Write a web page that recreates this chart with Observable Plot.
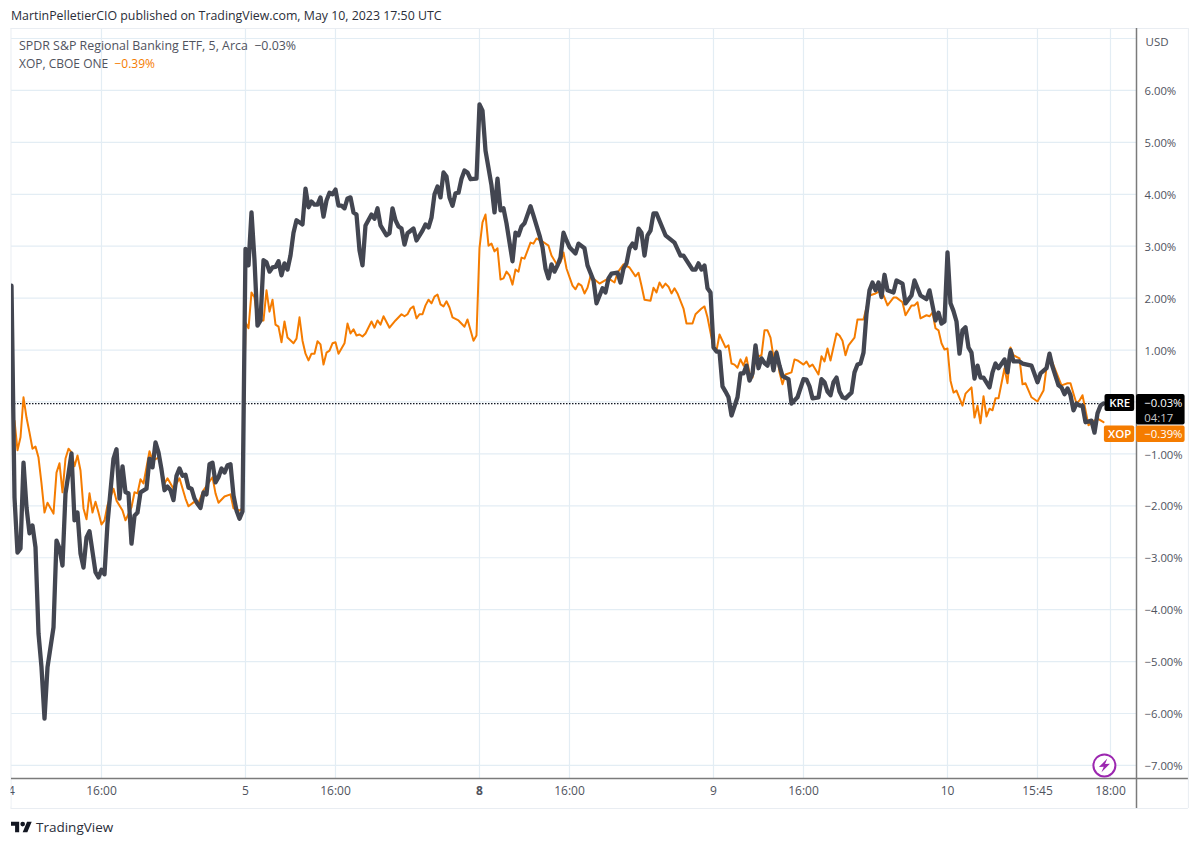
<!DOCTYPE html>
<html><head><meta charset="utf-8">
<script src="https://cdn.jsdelivr.net/npm/d3@7"></script>
<script src="https://cdn.jsdelivr.net/npm/@observablehq/plot@0.6"></script>
<style>
html,body{margin:0;padding:0;background:#fff;font-family:"Open Sans",sans-serif;}
#wrap{position:relative;width:1200px;height:846px;overflow:hidden;}
#wrap svg.plot{position:absolute;left:0;top:0;}
.t{position:absolute;white-space:pre;color:#50535e;font-size:12px;line-height:14px;}
</style></head><body>
<div id="wrap">
<div class="t" style="left:11px;top:9px;color:#2a2e39;font-size:12.37px;">MartinPelletierCIO published on TradingView.com, May 10, 2023 17:50 UTC</div>
<div class="t" id="l1" style="left:19px;top:39px;font-size:12.4px;">SPDR S&amp;P Regional Banking ETF, 5, Arca  −0.03%</div>
<div class="t" id="l2" style="left:19px;top:57px;">XOP, CBOE ONE  <span style="color:#f57c00">−0.39%</span></div>
<div class="t" style="left:36px;top:819px;color:#2a2e39;font-size:13.5px;line-height:16px;">TradingView</div>
<svg style="position:absolute;left:11px;top:821px" width="21" height="12" viewBox="0 4 36 18"><path fill="#131722" d="M14 22H7V11H0V4h14v18zM28 22h-8l7.5-18h8L28 22z"/><circle fill="#131722" cx="20" cy="8" r="4"/></svg>
</div>
<script>
const kreBars=[0,1,2,3,4,5,6,7,8,9,10,11,12,14,15,16,17,18,19,20,21,22,23,24,25,26,28,29,30,31,32,34,35,36,37,38,39,40,41,42,43,45,46,47,48,49,50,51,52,53,54,55,56,57,58,59,60,61,62,63,64,65,66,67,68,69,70,71,72,73,74,75,76,77,78,79,80,81,82,83,84,85,86,87,88,89,90,91,92,93,94,95,97,98,99,100,101,102,103,104,105,106,107,108,109,110,111,112,113,114,115,116,117,118,120,121,122,123,125,126,127,128,129,130,131,132,134,135,137,138,139,140,141,142,143,144,145,146,147,148,149,150,151,152,153,155,156,157,158,160,161,162,163,164,165,167,168,169,170,171,173,174,176,177,178,179,180,181,182,183,184,185,186,188,189,191,192,194,195,197,198,199,200,202,203,204,205,206,207,208,209,210,211,212,213,214,215,218,221,223,224,227,228,229,230,231,232,233,234,235,236,237,238,239,240,242,243,244,245,246,247,248,249,250,251,252,253,254,255,256,257,258,259,260,262,264,265,266,267,269,270,271,272,273,274,275,276,277,278,280,281,282,283,284,285,286,287,288,289,290,291,292,294,295,297,298,300,301,303,305,306,308,309,310,311,312,313,314,315,316,317,318,319,320,321,322,323,324,326,327,328,329,331,332,333,334,336,337,340,342,343,345,346,347,349,350,351,352,353,354,355,356,357,358,360,361,362,363,364];
const kreValues=[2.24,-1.84,-2.90,-2.82,-1.17,-2.03,-2.53,-2.38,-2.80,-4.46,-5.11,-6.10,-5.11,-4.34,-2.67,-2.82,-3.15,-1.76,-1.38,-0.99,-2.28,-2.13,-2.92,-3.19,-2.61,-2.49,-3.28,-3.38,-3.23,-3.32,-2.34,-1.09,-0.91,-1.86,-1.24,-1.74,-1.76,-2.73,-2.19,-2.13,-1.74,-1.67,-1.09,-1.26,-0.78,-0.97,-1.30,-1.70,-1.63,-1.70,-1.89,-1.42,-1.28,-1.42,-1.40,-1.65,-1.67,-1.86,-1.96,-2.04,-1.74,-1.78,-1.20,-1.17,-1.55,-1.45,-1.28,-1.36,-1.22,-1.20,-1.80,-2.09,-2.25,-2.11,2.95,2.63,3.65,2.73,1.47,1.57,2.73,2.69,2.51,2.59,2.60,2.71,2.44,2.67,2.55,2.82,3.26,3.50,3.42,4.11,3.75,3.86,3.80,3.80,3.94,3.57,3.88,4.03,4.00,4.09,3.78,3.78,3.73,3.92,3.94,3.65,3.61,2.92,2.63,3.40,3.61,3.53,3.73,3.40,3.21,3.25,3.73,3.50,3.38,3.34,3.03,3.25,3.34,3.11,3.30,3.42,3.36,3.55,4.00,4.15,3.94,4.42,4.34,3.94,3.78,4.02,4.03,4.30,4.46,4.42,4.29,4.30,5.73,5.61,4.84,4.17,3.65,4.30,3.69,3.73,3.44,2.71,3.26,3.21,3.38,3.44,3.77,3.59,3.21,2.98,2.57,2.38,2.65,2.51,2.63,2.78,3.26,3.11,2.98,2.86,3.05,2.96,2.63,2.34,1.90,2.19,2.11,2.38,2.47,2.49,2.30,2.57,2.67,2.96,3.05,2.96,3.34,3.26,2.82,3.21,3.30,3.63,3.63,3.21,3.07,2.82,2.82,2.55,2.55,2.67,2.55,2.63,2.19,2.11,1.05,0.97,0.97,0.30,0.20,0.09,-0.26,0.09,0.55,0.55,0.70,0.41,0.55,1.09,0.65,0.84,0.75,0.70,0.95,0.61,0.95,0.70,0.50,0.47,0.44,-0.03,0.09,0.44,0.43,0.30,0.07,0.09,0.44,0.38,0.20,0.13,0.38,0.47,0.20,0.09,0.07,0.18,0.57,0.72,0.74,0.95,1.70,2.15,2.30,2.15,2.30,2.02,2.45,2.15,2.11,2.34,2.28,1.90,2.05,2.34,2.05,1.98,2.15,1.57,1.72,1.51,1.55,2.88,1.90,1.75,1.55,0.93,1.38,1.44,1.05,0.95,0.45,0.70,0.47,0.47,0.28,0.57,0.74,0.65,0.82,0.57,1.00,0.78,0.78,0.74,0.70,0.38,0.55,0.65,0.93,0.68,0.32,0.28,0.15,0.26,0.13,-0.16,-0.03,-0.07,-0.07,-0.39,-0.36,-0.59,-0.22,-0.07,-0.03];
const xopBars=[1,2,3,4,5,6,7,8,9,10,11,12,14,15,16,17,18,19,20,21,22,23,24,25,26,27,28,29,30,31,32,34,35,37,38,40,41,42,43,44,46,47,49,50,51,52,54,56,58,59,61,62,64,67,68,69,71,73,74,76,77,78,79,80,81,82,83,84,85,86,87,88,89,90,91,92,94,95,96,97,98,99,100,101,102,103,104,105,106,107,108,109,111,112,113,114,115,116,117,118,120,121,122,123,124,126,128,130,131,132,133,134,135,136,137,138,139,140,141,142,143,144,145,146,147,149,151,152,154,155,156,157,158,159,160,161,162,163,164,165,166,167,168,169,170,171,173,174,175,177,179,180,182,183,184,185,187,188,189,190,191,192,193,196,199,201,202,204,206,208,209,210,211,213,214,215,216,217,218,219,220,221,222,224,225,227,228,230,231,232,234,235,236,238,239,240,241,242,243,244,245,246,247,248,250,251,252,253,254,255,256,257,258,260,261,262,264,265,266,267,269,270,271,272,273,275,276,277,278,279,281,282,284,286,288,290,291,292,294,295,297,298,300,301,302,303,305,306,307,308,309,310,311,312,313,314,315,317,318,320,321,322,323,324,325,326,327,328,329,330,331,332,333,334,336,337,338,340,342,344,345,346,350,352,353,354,355,356,357,358,359,361,362,364];
const xopValues=[-0.36,-0.93,-0.68,0.09,-0.30,-0.59,-0.90,-0.86,-1.07,-1.57,-2.13,-1.94,-2.15,-1.36,-1.18,-1.74,-1.09,-0.90,-0.97,-1.24,-1.03,-1.32,-2.05,-2.26,-1.76,-2.13,-1.92,-2.13,-2.36,-2.28,-1.99,-1.67,-1.90,-2.09,-2.28,-2.03,-1.74,-1.76,-1.49,-1.57,-0.95,-1.13,-1.07,-1.26,-1.57,-1.47,-1.67,-1.47,-1.86,-2.01,-1.92,-1.99,-1.70,-1.45,-1.76,-1.94,-1.82,-1.78,-2.05,-2.09,-2.05,1.53,1.42,2.11,2.01,1.57,1.57,1.57,2.15,1.74,1.97,1.49,1.45,1.15,1.55,1.24,1.13,1.22,1.63,1.18,0.93,0.80,0.93,0.93,1.17,1.11,0.72,0.95,0.99,1.13,1.15,0.93,1.13,1.51,1.32,1.40,1.28,1.30,1.26,1.32,1.55,1.43,1.57,1.49,1.65,1.43,1.57,1.69,1.65,1.69,1.80,1.84,1.61,1.69,1.69,1.86,1.97,1.90,2.03,2.07,1.88,1.84,1.94,1.82,1.63,1.57,1.45,1.59,1.18,1.28,2.97,3.46,3.61,3.01,3.05,2.90,2.96,2.36,2.38,2.51,2.44,2.26,2.55,2.51,2.78,2.76,3.07,3.05,3.15,3.09,3.01,2.82,2.63,2.69,2.88,2.57,2.24,2.17,2.28,2.24,2.09,2.20,2.42,2.28,2.38,2.30,2.49,2.65,2.59,2.42,2.49,2.24,1.97,1.95,2.20,2.11,2.30,2.20,2.28,2.22,2.09,2.19,2.09,1.80,1.51,1.51,1.69,1.80,1.84,1.63,1.05,0.99,1.30,1.05,1.09,0.74,0.72,0.66,0.82,0.70,0.86,0.55,0.47,0.86,0.90,1.38,1.38,1.24,0.86,0.99,0.57,0.34,0.53,0.57,0.82,0.80,0.72,0.78,0.68,0.72,0.53,0.88,0.78,1.03,0.80,1.32,1.28,1.18,0.90,1.09,1.24,1.59,1.59,2.05,2.09,2.15,2.01,1.86,2.01,2.01,1.92,1.67,1.86,1.86,1.92,1.61,1.67,1.65,1.72,1.42,1.38,1.13,1.01,1.03,0.41,0.18,0.22,-0.07,0.16,0.28,-0.30,-0.07,-0.41,0.11,-0.28,-0.13,-0.16,0.07,0.07,0.36,0.65,0.36,1.05,0.90,0.84,0.34,0.36,0.09,0.01,0.22,0.66,0.90,0.32,0.36,0.36,0.16,-0.03,0.03,0.13,-0.16,-0.45,-0.36,-0.32,-0.39];
const yTicks=[7,6,5,4,3,2,1,0,-1,-2,-3,-4,-5,-6,-7];
const yLabelTicks=[6,5,4,3,2,1,-1,-2,-3,-4,-5,-6,-7];
const xTicks=[0,30,78,108,186,234,264,312,342,366.33];
const xLabels=["4","16:00","5","16:00","16:00","9","16:00","10","15:45","18:00"];
const boldTick=[156], boldLabel="8";
const gridX=[30,78,108,156,186,234,264,312,342,366.33];
const lastKre=-0.03, lastXop=-0.39;

const fmtPct=v=>(v<0?"\u2212":"")+Math.abs(v).toFixed(2)+"%";
const kre=kreBars.map((b,i)=>({b,v:kreValues[i]}));
const xop=xopBars.map((b,i)=>({b,v:xopValues[i]}));
const grid="#e3edf4", axisC="#7b7b7b", txt="#50535e", font='"Open Sans",sans-serif';
const bolt={draw(c,size){const r=Math.sqrt(size/Math.PI);
  c.moveTo(.45*r,-1.05*r);c.lineTo(-.85*r,.25*r);c.lineTo(-.1*r,.2*r);c.lineTo(-.45*r,1.05*r);
  c.lineTo(.85*r,-.25*r);c.lineTo(.1*r,-.2*r);c.closePath();}};

const chart=Plot.plot({
  width:1200,height:846,marginLeft:11,marginRight:64,marginTop:28,marginBottom:68,
  style:{fontFamily:font,background:"transparent"},
  x:{domain:[0,375],range:[11,1136],axis:null},
  y:{domain:[-7.252,7.193],range:[778,28],axis:null},
  marks:[
    Plot.ruleY(yTicks,{x1:0,x2:375,stroke:grid,strokeWidth:1.2}),
    Plot.ruleX(gridX,{y1:-7.252,y2:7.193,stroke:grid,strokeWidth:1.2}),
    Plot.ruleY([7.193,-7.83],{x1:-0.17,x2:392.3,stroke:"#e9edf2"}),
    Plot.ruleX([-0.17,392.3],{y1:-7.83,y2:7.193,stroke:"#e9edf2"}),
    Plot.ruleY([lastKre],{x1:0,x2:364,stroke:"#131722",strokeWidth:1.3,strokeDasharray:"1.5 1.5"}),
    Plot.line(xop,{x:"b",y:"v",stroke:"#f57c00",strokeWidth:2,strokeLinejoin:"round"}),
    Plot.line(kre,{x:"b",y:"v",stroke:"#434651",strokeWidth:4.3,strokeLinejoin:"round",strokeLinecap:"round",clip:true}),
    Plot.ruleX([375],{y1:-7.83,y2:7.193,stroke:axisC,strokeWidth:1.5}),
    Plot.ruleY([-7.252],{x1:0,x2:392.3,stroke:axisC,strokeWidth:1.5}),
    Plot.axisY(yLabelTicks,{anchor:"right",tickSize:0,tickPadding:8,textAnchor:"start",tickFormat:fmtPct,label:null,fontSize:11.3,dy:1,fill:txt}),
    Plot.axisX(xTicks,{anchor:"bottom",tickSize:0,tickPadding:8,tickFormat:(d,i)=>xLabels[i],label:null,fontSize:12,fill:txt}),
    Plot.axisX(boldTick,{anchor:"bottom",tickSize:0,tickPadding:8,tickFormat:()=>boldLabel,label:null,fontSize:12,fontWeight:"bold",fill:txt}),
    Plot.rect([0],{x1:-4,x2:-0.17,y1:-7.3,y2:-7.8,fill:"#fff"}),
    Plot.text(["USD"],{x:[378],y:[6.93],text:d=>d,textAnchor:"start",fontSize:11.5,fill:txt}),
    // last-value tags
    Plot.rect([0],{x1:364.5,x2:374.4,y1:0.144,y2:-0.183,fill:"#000",rx:2}),
    Plot.rect([0],{x1:375,x2:391.2,y1:0.144,y2:-0.443,fill:"#000",rx:2}),
    Plot.rect([0],{x1:364.3,x2:374.4,y1:-0.462,y2:-0.78,fill:"#f57c00",rx:2}),
    Plot.rect([0],{x1:375,x2:391.2,y1:-0.462,y2:-0.78,fill:"#f57c00",rx:2}),
    Plot.text(["KRE"],{x:[369.4],y:[lastKre],text:d=>d,fill:"#fff",fontSize:11.5,fontWeight:600}),
    Plot.text(["XOP"],{x:[369.4],y:[-0.62],text:d=>d,fill:"#fff",fontSize:11.5,fontWeight:600}),
    Plot.text([fmtPct(lastKre)],{x:[377.6],y:[lastKre],text:d=>d,textAnchor:"start",fill:"#fff",fontSize:11.3}),
    Plot.text(["04:17"],{x:[377.6],y:[-0.318],text:d=>d,textAnchor:"start",fill:"#c8c8c8",fontSize:11.3}),
    Plot.text([fmtPct(lastXop)],{x:[377.6],y:[-0.62],text:d=>d,textAnchor:"start",fill:"#fff",fontSize:11.3}),
    // alert icon
    Plot.dot([0],{x:[364.3],y:[-7.0],r:11,stroke:"#9c27b0",strokeWidth:2,fill:"#fff"}),
    Plot.dot([0],{x:[364.3],y:[-7.0],r:6.5,symbol:bolt,fill:"#9c27b0",stroke:"none"})
  ]
});
document.getElementById("wrap").appendChild(chart);
document.querySelectorAll("#wrap > .t, #wrap > svg:not(.plot)").forEach(e=>e.style.zIndex=2);
</script>
</body></html>
